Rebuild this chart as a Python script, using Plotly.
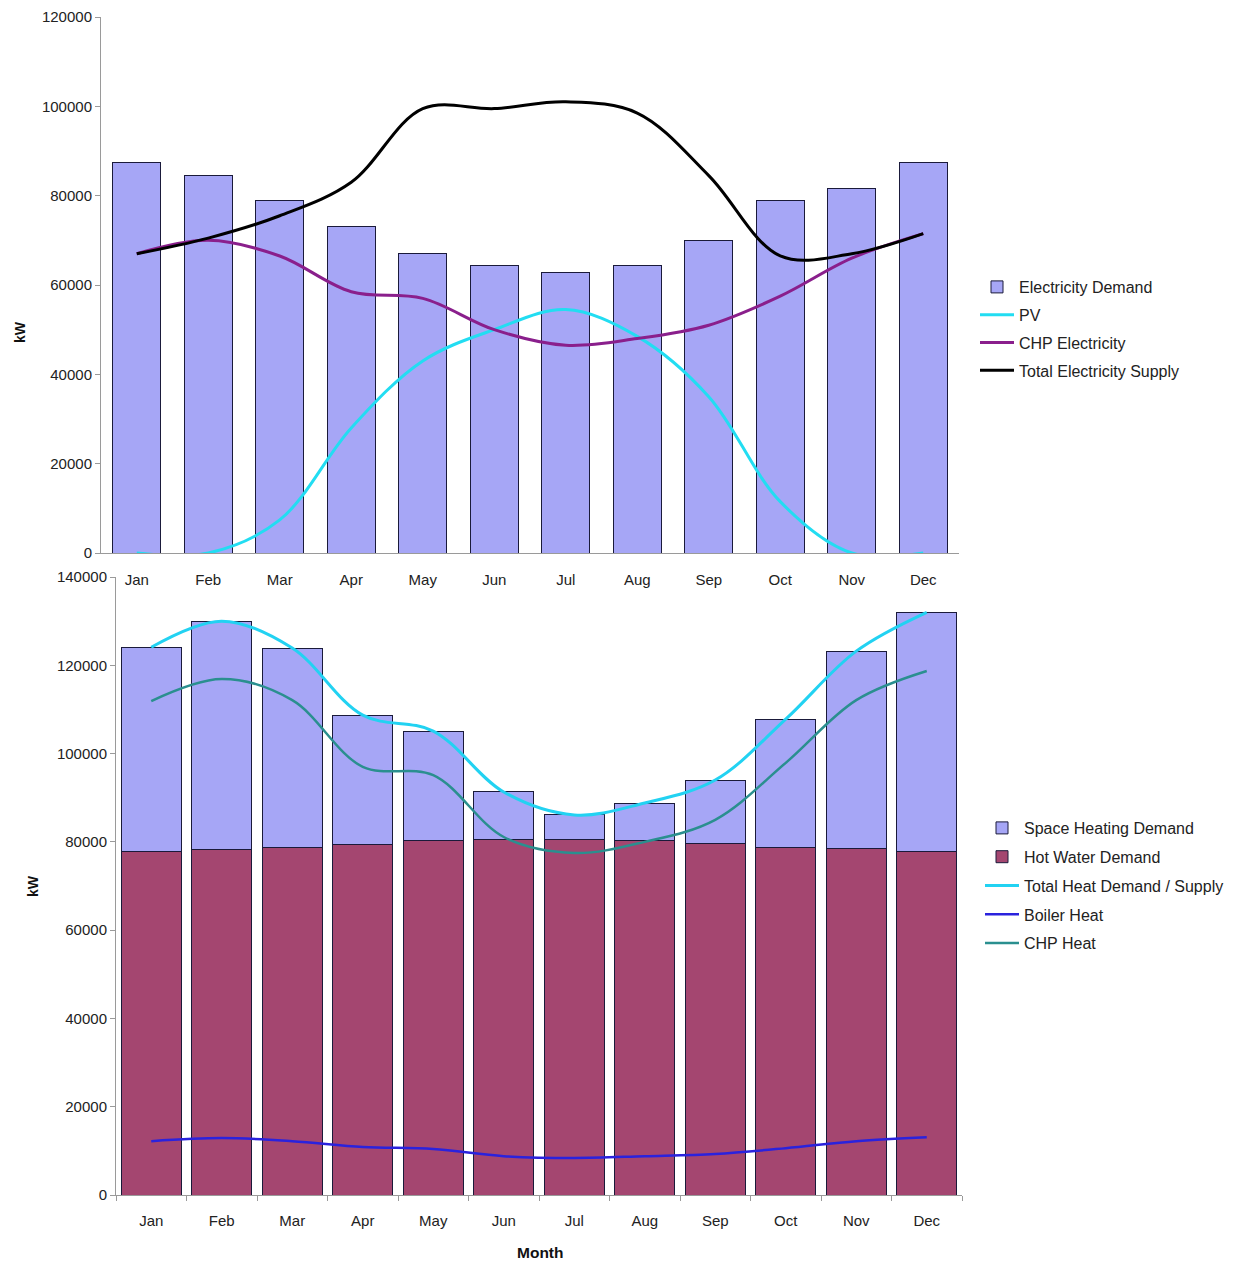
import plotly.graph_objects as go

W, H = 1255, 1265

months = ["Jan", "Feb", "Mar", "Apr", "May", "Jun", "Jul", "Aug", "Sep", "Oct", "Nov", "Dec"]

# Top chart (electricity)
elec_demand = [87500, 84600, 78900, 73000, 67000, 64300, 62900, 64300, 70000, 78900, 81700, 87500]
pv = [0, 0, 7400, 28000, 43000, 50000, 54500, 48500, 35000, 11500, 0, 0]
chp_elec = [67000, 70000, 66500, 58500, 57000, 50000, 46500, 48000, 51000, 57500, 66000, 71500]
total_elec = [67000, 70500, 75500, 83000, 99500, 99500, 101000, 98500, 84500, 66500, 67000, 71500]

# Bottom chart (heat)
hot_water = [77900, 78200, 78800, 79500, 80200, 80600, 80600, 80400, 79700, 78800, 78600, 77900]
space_heat = [46200, 51800, 45100, 29200, 24900, 10700, 5500, 8400, 14300, 29000, 44600, 54100]
total_heat = [124100, 130000, 123900, 108700, 105100, 91300, 86100, 88800, 94000, 107800, 123200, 132000]
boiler_heat = [12200, 12900, 12200, 10900, 10400, 8800, 8400, 8800, 9300, 10600, 12200, 13100]
chp_heat = [111900, 116900, 112100, 97000, 95100, 81100, 77500, 80000, 85000, 97900, 112100, 118700]

BAR_BLUE = "#a6a6f6"
HOT = "#a44670"
OUTLINE = "#1a1a3a"
FONT = "Liberation Sans, Arial, sans-serif"

fig = go.Figure()

# ---- top ----
fig.add_trace(go.Bar(x=months, y=elec_demand, name="Electricity Demand", width=0.67,
                     legendgroup="e1", legendrank=1,
                     marker=dict(color=BAR_BLUE, line=dict(color=OUTLINE, width=1)),
                     xaxis="x", yaxis="y", legend="legend"))
fig.add_trace(go.Scatter(x=months, y=pv, name="PV", mode="lines", legendgroup="e2", legendrank=2,
                         line=dict(color="#22ddf2", width=3, shape="spline", smoothing=1),
                         xaxis="x", yaxis="y", legend="legend"))
fig.add_trace(go.Scatter(x=months, y=chp_elec, name="CHP Electricity", mode="lines",
                         legendgroup="e3", legendrank=3,
                         line=dict(color="#8a1f8c", width=3, shape="spline", smoothing=1),
                         xaxis="x", yaxis="y", legend="legend"))
fig.add_trace(go.Scatter(x=months, y=total_elec, name="Total Electricity Supply", mode="lines",
                         legendgroup="e4", legendrank=4,
                         line=dict(color="#000000", width=3, shape="spline", smoothing=1),
                         xaxis="x", yaxis="y", legend="legend"))

# ---- bottom ----
fig.add_trace(go.Bar(x=months, y=hot_water, name="Hot Water Demand", width=0.85,
                     legendgroup="h2", legendrank=2,
                     marker=dict(color=HOT, line=dict(color=OUTLINE, width=1)),
                     xaxis="x2", yaxis="y2", legend="legend2"))
fig.add_trace(go.Bar(x=months, y=space_heat, name="Space Heating Demand", width=0.85,
                     legendgroup="h1", legendrank=1,
                     marker=dict(color=BAR_BLUE, line=dict(color=OUTLINE, width=1)),
                     xaxis="x2", yaxis="y2", legend="legend2"))
fig.add_trace(go.Scatter(x=months, y=total_heat, name="Total Heat Demand / Supply", mode="lines",
                         legendgroup="h3", legendrank=3,
                         line=dict(color="#22d2f2", width=3, shape="spline", smoothing=1),
                         xaxis="x2", yaxis="y2", legend="legend2"))
fig.add_trace(go.Scatter(x=months, y=boiler_heat, name="Boiler Heat", mode="lines",
                         legendgroup="h4", legendrank=4,
                         line=dict(color="#2a22dd", width=2.5, shape="spline", smoothing=1),
                         xaxis="x2", yaxis="y2", legend="legend2"))
fig.add_trace(go.Scatter(x=months, y=chp_heat, name="CHP Heat", mode="lines",
                         legendgroup="h5", legendrank=5,
                         line=dict(color="#2a8f8f", width=2.5, shape="spline", smoothing=1),
                         xaxis="x2", yaxis="y2", legend="legend2"))

def px_x(v):
    return v / W

def px_y(v):
    return 1 - v / H

tickfont = dict(family=FONT, size=15, color="#222222")
axis_common = dict(showgrid=False, zeroline=False, showline=True, linecolor="#9a9a9a",
                   linewidth=1, ticks="outside", tickcolor="#9a9a9a", ticklen=5,
                   tickfont=tickfont, automargin=False)

legend_font = dict(family=FONT, size=16, color="#222222")

fig.update_layout(
    width=W, height=H,
    margin=dict(l=0, r=0, t=0, b=0, autoexpand=False),
    paper_bgcolor="white", plot_bgcolor="white",
    barmode="stack",
    font=dict(family=FONT, size=14, color="#222222"),
    xaxis=dict(domain=[px_x(101), px_x(959)], anchor="y", type="category",
               tickson="boundaries", ticklabelstandoff=13,
               **{**axis_common, "ticks": "", "ticklen": 0}),
    yaxis=dict(domain=[px_y(553), px_y(17)], anchor="x", range=[0, 120000],
               tickvals=[0, 20000, 40000, 60000, 80000, 100000, 120000],
               ticktext=["0", "20000", "40000", "60000", "80000", "100000", "120000"],
               **axis_common),
    xaxis2=dict(domain=[px_x(116), px_x(962)], anchor="y2", type="category",
                tickson="boundaries", ticklabelstandoff=12, **axis_common),
    yaxis2=dict(domain=[px_y(1195), px_y(577)], anchor="x2", range=[0, 140000],
                tickvals=[0, 20000, 40000, 60000, 80000, 100000, 120000, 140000],
                ticktext=["0", "20000", "40000", "60000", "80000", "100000", "120000", "140000"],
                **axis_common),
    legend=dict(x=px_x(975), y=px_y(270), xanchor="left", yanchor="top",
                font=legend_font, traceorder="grouped",
                tracegroupgap=4, itemwidth=34, bgcolor="rgba(0,0,0,0)"),
    legend2=dict(x=px_x(980), y=px_y(811), xanchor="left", yanchor="top",
                 font=legend_font, traceorder="grouped",
                 tracegroupgap=5, itemwidth=34, bgcolor="rgba(0,0,0,0)"),
    annotations=[
        dict(text="<b>kW</b>", x=px_x(20), y=px_y(332), xref="paper", yref="paper",
             xanchor="center", yanchor="middle",
             textangle=-90, showarrow=False, font=dict(family=FONT, size=14, color="#111111")),
        dict(text="<b>kW</b>", x=px_x(33), y=px_y(886), xref="paper", yref="paper",
             xanchor="center", yanchor="middle",
             textangle=-90, showarrow=False, font=dict(family=FONT, size=14, color="#111111")),
        dict(text="<b>Month</b>", x=px_x(540), y=px_y(1252), xref="paper", yref="paper",
             xanchor="center", yanchor="middle",
             showarrow=False, font=dict(family=FONT, size=15.5, color="#111111")),
    ],
)

fig.write_html("out.html")
